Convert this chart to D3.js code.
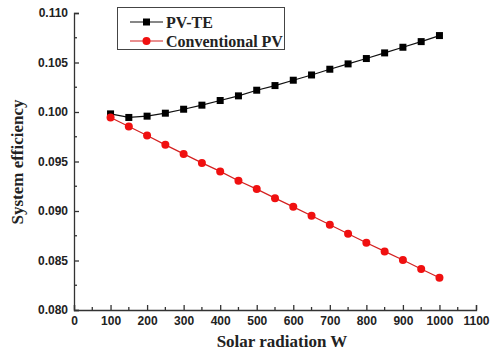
<!DOCTYPE html>
<html>
<head>
<meta charset="utf-8">
<script src="https://cdn.jsdelivr.net/npm/d3@7"></script>
<style>
  body { margin: 0; background: #fff; }
  .tick text { font-family: Arial, "Liberation Sans", sans-serif; font-weight: bold; font-size: 12px; fill: #222; }
</style>
</head>
<body>
<div id="chart"></div>
<script>
const radiation = [100, 150, 200, 250, 300, 350, 400, 450, 500, 550, 600, 650, 700, 750, 800, 850, 900, 950, 1000];
const pvte = [0.09981, 0.09945, 0.09958, 0.09988, 0.10028, 0.10069, 0.10116, 0.10163, 0.10220, 0.10267,
              0.10321, 0.10374, 0.10432, 0.10486, 0.10540, 0.10597, 0.10654, 0.10711, 0.10772];
const conventional = [0.09945, 0.09854, 0.09763, 0.09668, 0.09577, 0.09486, 0.09400, 0.09305, 0.09221, 0.09130,
                      0.09042, 0.08952, 0.08861, 0.08770, 0.08679, 0.08592, 0.08505, 0.08414, 0.08326];
const xTicks = [0, 100, 200, 300, 400, 500, 600, 700, 800, 900, 1000, 1100];
const yTicks = [0.080, 0.085, 0.090, 0.095, 0.100, 0.105, 0.110];

const width = 490, height = 353;
const marginLeft = 74, marginRight = 14, marginTop = 13, marginBottom = 43;

const svg = d3.select("#chart").append("svg")
    .attr("width", width)
    .attr("height", height);

const x = d3.scaleLinear()
    .domain([0, 1100])
    .range([marginLeft, width - marginRight]);
const y = d3.scaleLinear()
    .domain([0.080, 0.110])
    .range([height - marginBottom, marginTop]);

// x axis, ticks pointing inward
svg.append("g")
    .attr("transform", `translate(0,${height - marginBottom})`)
    .call(d3.axisBottom(x).tickValues(xTicks).tickSize(-5).tickPadding(5).tickFormat(d3.format("d")))
    .call(g => g.select(".domain").attr("stroke", "#333").attr("stroke-width", 1.3))
    .call(g => g.selectAll(".tick line").attr("stroke", "#333").attr("stroke-width", 1.3))
    .call(g => g.selectAll(".tick text").attr("dy", "0.85em"));

svg.append("g")
    .attr("transform", `translate(0,${height - marginBottom})`)
    .selectAll("line")
    .data(d3.range(50, 1100, 100))
    .join("line")
    .attr("x1", d => x(d))
    .attr("x2", d => x(d))
    .attr("y1", 0)
    .attr("y2", -3)
    .attr("stroke", "#333")
    .attr("stroke-width", 1.3);

// y axis
svg.append("g")
    .attr("transform", `translate(${marginLeft},0)`)
    .call(d3.axisLeft(y).tickValues(yTicks).tickSize(-5).tickPadding(6).tickFormat(d3.format(".3f")))
    .call(g => g.select(".domain").attr("stroke", "#333").attr("stroke-width", 1.3))
    .call(g => g.selectAll(".tick line").attr("stroke", "#333").attr("stroke-width", 1.3));

svg.append("g")
    .attr("transform", `translate(${marginLeft},0)`)
    .selectAll("line")
    .data(d3.range(0.0825, 0.110, 0.005))
    .join("line")
    .attr("x1", 0)
    .attr("x2", 3)
    .attr("y1", d => y(d))
    .attr("y2", d => y(d))
    .attr("stroke", "#333")
    .attr("stroke-width", 1.3);

// axis titles
svg.append("text")
    .attr("x", 282)
    .attr("y", height - 6)
    .attr("text-anchor", "middle")
    .attr("font-family", "'Liberation Serif', 'Times New Roman', serif")
    .attr("font-weight", "bold")
    .attr("font-size", 17)
    .attr("fill", "#222")
    .text("Solar radiation W");

svg.append("text")
    .attr("transform", `translate(23,162) rotate(-90)`)
    .attr("text-anchor", "middle")
    .attr("font-family", "'Liberation Serif', 'Times New Roman', serif")
    .attr("font-weight", "bold")
    .attr("font-size", 17)
    .attr("fill", "#222")
    .text("System efficiency");

const line = d3.line().x(d => x(d[0])).y(d => y(d[1]));
const pvteData = radiation.map((r, i) => [r, pvte[i]]);
const convData = radiation.map((r, i) => [r, conventional[i]]);

svg.append("path")
    .datum(pvteData)
    .attr("fill", "none")
    .attr("stroke", "#111")
    .attr("stroke-width", 1.2)
    .attr("d", line);

svg.append("path")
    .datum(convData)
    .attr("fill", "none")
    .attr("stroke", "#d42020")
    .attr("stroke-width", 1.2)
    .attr("d", line);

svg.append("g")
    .selectAll("rect")
    .data(pvteData)
    .join("rect")
    .attr("x", d => x(d[0]) - 3.5)
    .attr("y", d => y(d[1]) - 3.5)
    .attr("width", 7)
    .attr("height", 7)
    .attr("fill", "#000");

svg.append("g")
    .selectAll("circle")
    .data(convData)
    .join("circle")
    .attr("cx", d => x(d[0]))
    .attr("cy", d => y(d[1]))
    .attr("r", 4)
    .attr("fill", "#f01010");

// legend
const legend = svg.append("g");
legend.append("rect")
    .attr("x", 117.5)
    .attr("y", 7.5)
    .attr("width", 167)
    .attr("height", 42)
    .attr("fill", "#fff")
    .attr("stroke", "#444")
    .attr("stroke-width", 1);

const legendItems = [
    {label: "PV-TE", color: "#111", shape: "square", cy: 22},
    {label: "Conventional PV", color: "#d42020", shape: "circle", cy: 41}
];
legendItems.forEach(item => {
    legend.append("line")
        .attr("x1", 130).attr("x2", 163)
        .attr("y1", item.cy).attr("y2", item.cy)
        .attr("stroke", item.color)
        .attr("stroke-width", 1.2);
    if (item.shape === "square") {
        legend.append("rect")
            .attr("x", 146.5 - 3.5).attr("y", item.cy - 3.5)
            .attr("width", 7).attr("height", 7)
            .attr("fill", "#000");
    } else {
        legend.append("circle")
            .attr("cx", 146.5).attr("cy", item.cy)
            .attr("r", 4)
            .attr("fill", "#f01010");
    }
    legend.append("text")
        .attr("x", 166)
        .attr("y", item.cy)
        .attr("dy", "0.35em")
        .attr("font-family", "'Liberation Serif', 'Times New Roman', serif")
        .attr("font-weight", "bold")
        .attr("font-size", 16)
        .attr("fill", "#222")
        .text(item.label);
});
</script>
</body>
</html>
